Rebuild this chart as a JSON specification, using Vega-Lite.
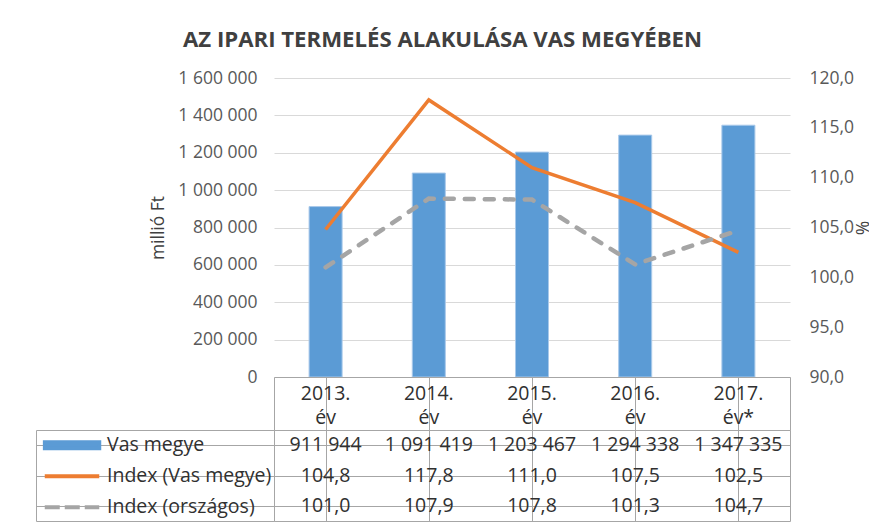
{
  "$schema": "https://vega.github.io/schema/vega-lite/v6.json",
  "padding": {"left": 35, "top": 28, "right": 0, "bottom": 0},
  "background": "white",
  "title": {
    "text": "AZ IPARI TERMELÉS ALAKULÁSA VAS MEGYÉBEN",
    "font": "Open Sans",
    "fontSize": 22.2,
    "fontWeight": "bold",
    "color": "#404040",
    "anchor": "middle",
    "dx": -10,
    "offset": 18
  },
  "config": {
    "locale": {"number": {"decimal": ",", "thousands": " ", "grouping": [3], "currency": ["", ""]}},
    "font": "Open Sans",
    "axis": {"labelFont": "Open Sans", "titleFont": "Open Sans"},
    "legend": {"labelFont": "Open Sans"}
  },
  "resolve": {
    "scale": {"color": "independent", "stroke": "independent", "shape": "independent", "strokeDash": "independent"},
    "legend": {"color": "independent", "stroke": "independent", "shape": "independent", "strokeDash": "independent"}
  },
  "datasets": {
    "main": [
      {"year": "2013. év", "series": "Vas megye", "value": 911944},
      {"year": "2014. év", "series": "Vas megye", "value": 1091419},
      {"year": "2015. év", "series": "Vas megye", "value": 1203467},
      {"year": "2016. év", "series": "Vas megye", "value": 1294338},
      {"year": "2017. év*", "series": "Vas megye", "value": 1347335},
      {"year": "2013. év", "series": "Index (Vas megye)", "value": 104.8},
      {"year": "2014. év", "series": "Index (Vas megye)", "value": 117.8},
      {"year": "2015. év", "series": "Index (Vas megye)", "value": 111.0},
      {"year": "2016. év", "series": "Index (Vas megye)", "value": 107.5},
      {"year": "2017. év*", "series": "Index (Vas megye)", "value": 102.5},
      {"year": "2013. év", "series": "Index (országos)", "value": 101.0},
      {"year": "2014. év", "series": "Index (országos)", "value": 107.9},
      {"year": "2015. év", "series": "Index (országos)", "value": 107.8},
      {"year": "2016. év", "series": "Index (országos)", "value": 101.3},
      {"year": "2017. év*", "series": "Index (országos)", "value": 104.7}
    ]
  },
  "columns": 2,
  "spacing": 0,
  "bounds": "flush",
  "concat": [
    {
      "width": 238, "height": 299,
      "view": {"stroke": null},
      "data": {"values": []},
      "mark": {"type": "text"},
      "encoding": {}
    },
    {
      "width": 516, "height": 299,
      "view": {"stroke": null},
      "data": {"name": "main"},
      "encoding": {
        "x": {"field": "year", "type": "nominal", "sort": null,
              "scale": {"paddingInner": 0.68, "paddingOuter": 0.34}, "axis": null}
      },
      "layer": [
        {
          "transform": [{"filter": "datum.series === 'Vas megye'"}],
          "mark": {"type": "bar", "color": "#5B9BD5", "stroke": "#A9C9EA", "strokeWidth": 1},
          "encoding": {
            "y": {"field": "value", "type": "quantitative",
                  "scale": {"domain": [0, 1600000]},
                  "axis": {"title": "millió Ft", "values": [0, 200000, 400000, 600000, 800000, 1000000, 1200000, 1400000, 1600000],
                           "format": ",d", "labelFontSize": 17.5, "labelColor": "#595959", "labelPadding": 17,
                           "ticks": false, "tickSize": 0, "domain": false, "grid": true, "gridColor": "#D9D9D9",
                           "titleFontSize": 17.5, "titleFontWeight": "normal", "titleColor": "#404040", "titlePadding": 10}}
          }
        },
        {
          "encoding": {
            "y": {"field": "value", "type": "quantitative",
                  "scale": {"domain": [90, 120]},
                  "axis": {"orient": "right", "title": "%", "values": [90, 95, 100, 105, 110, 115, 120],
                           "format": ".1f", "labelFontSize": 17.5, "labelColor": "#595959", "labelPadding": 19,
                           "ticks": false, "tickSize": 0, "domain": false, "grid": false,
                           "titleFontSize": 17.5, "titleFontWeight": "normal", "titleColor": "#404040", "titlePadding": -2}}
          },
          "layer": [
            {
              "transform": [{"filter": "datum.series === 'Index (Vas megye)'"}],
              "mark": {"type": "line", "color": "#ED7D31", "strokeWidth": 3.5}
            },
            {
              "transform": [{"filter": "datum.series === 'Index (országos)'"}],
              "mark": {"type": "line", "color": "#A5A5A5", "strokeWidth": 4.5, "strokeDash": [9, 11], "strokeCap": "round"}
            }
          ]
        }
      ],
      "resolve": {"scale": {"y": "independent"}}
    },
    {
      "width": 238, "height": 53,
      "view": {"stroke": null},
      "data": {"values": []},
      "mark": {"type": "text"},
      "encoding": {}
    },
    {
      "width": 516, "height": 53,
      "view": {"stroke": "#A6A6A6"},
      "data": {"name": "main"},
      "transform": [{"filter": "datum.series === 'Vas megye'"}],
      "mark": {"type": "text", "lineBreak": " ", "fontSize": 19.5, "lineHeight": 24, "dy": -10, "color": "#303030", "font": "Open Sans"},
      "encoding": {
        "x": {"field": "year", "type": "nominal", "sort": null,
              "scale": {"paddingInner": 0, "paddingOuter": 0},
              "axis": {"title": null, "labels": false, "ticks": false, "domain": false, "grid": true,
                       "gridColor": "#A6A6A6", "bandPosition": 0}},
        "text": {"field": "year"}
      }
    },
    {
      "width": 238, "height": 91,
      "view": {"stroke": "#A6A6A6"},
      "data": {"name": "main"},
      "transform": [{"filter": "datum.year === '2013. év'"}],
      "mark": {"type": "point", "filled": true, "opacity": 0},
      "encoding": {
        "y": {"field": "series", "type": "nominal",
              "scale": {"domain": ["Vas megye", "Index (Vas megye)", "Index (országos)"], "paddingInner": 0, "paddingOuter": 0},
              "axis": {"title": null, "labels": false, "ticks": false, "domain": false, "grid": true,
                       "gridColor": "#A6A6A6", "bandPosition": 0}},
        "color": {"field": "series", "type": "nominal",
                  "scale": {"domain": ["Vas megye", "Index (Vas megye)", "Index (országos)"],
                            "range": ["#5B9BD5", "#ED7D31", "#A5A5A5"]},
                  "legend": {
                    "orient": "none", "legendX": 6.5, "legendY": 0, "title": null, "padding": 0,
                    "clipHeight": 30.33, "rowPadding": 0, "labelOffset": 5.5, "labelFontSize": 19.5,
                    "labelFont": "Open Sans", "labelColor": "#303030", "labelLimit": 400,
                    "symbolSize": 2970, "symbolStrokeWidth": 4, "symbolOpacity": 1
                  }},
        "stroke": {"field": "series", "type": "nominal",
                   "scale": {"domain": ["Vas megye", "Index (Vas megye)", "Index (országos)"],
                             "range": ["#5B9BD5", "#ED7D31", "#A5A5A5"]},
                   "legend": {
                    "orient": "none", "legendX": 6.5, "legendY": 0, "title": null, "padding": 0,
                    "clipHeight": 30.33, "rowPadding": 0, "labelOffset": 5.5, "labelFontSize": 19.5,
                    "labelFont": "Open Sans", "labelColor": "#303030", "labelLimit": 400,
                    "symbolSize": 2970, "symbolStrokeWidth": 4, "symbolOpacity": 1
                  }},
        "shape": {"field": "series", "type": "nominal",
                  "scale": {"domain": ["Vas megye", "Index (Vas megye)", "Index (országos)"],
                            "range": ["M-1,-0.111H1V0.111H-1Z", "stroke", "stroke"]},
                  "legend": {
                    "orient": "none", "legendX": 6.5, "legendY": 0, "title": null, "padding": 0,
                    "clipHeight": 30.33, "rowPadding": 0, "labelOffset": 5.5, "labelFontSize": 19.5,
                    "labelFont": "Open Sans", "labelColor": "#303030", "labelLimit": 400,
                    "symbolSize": 2970, "symbolStrokeWidth": 4, "symbolOpacity": 1
                  }},
        "strokeDash": {"field": "series", "type": "nominal",
                  "scale": {"domain": ["Vas megye", "Index (Vas megye)", "Index (országos)"],
                            "range": [[1, 0], [1, 0], [15, 5]]},
                  "legend": {
                    "orient": "none", "legendX": 6.5, "legendY": 0, "title": null, "padding": 0,
                    "clipHeight": 30.33, "rowPadding": 0, "labelOffset": 5.5, "labelFontSize": 19.5,
                    "labelFont": "Open Sans", "labelColor": "#303030", "labelLimit": 400,
                    "symbolSize": 2970, "symbolStrokeWidth": 4, "symbolOpacity": 1
                  }}
      }
    },
    {
      "width": 516, "height": 91,
      "view": {"stroke": "#A6A6A6"},
      "data": {"name": "main"},
      "encoding": {
        "x": {"field": "year", "type": "nominal", "sort": null,
              "scale": {"paddingInner": 0, "paddingOuter": 0},
              "axis": {"title": null, "labels": false, "ticks": false, "domain": false, "grid": true,
                       "gridColor": "#A6A6A6", "bandPosition": 0}},
        "y": {"field": "series", "type": "nominal",
              "scale": {"domain": ["Vas megye", "Index (Vas megye)", "Index (országos)"], "paddingInner": 0, "paddingOuter": 0},
              "axis": {"title": null, "labels": false, "ticks": false, "domain": false, "grid": true,
                       "gridColor": "#A6A6A6", "bandPosition": 0}}
      },
      "layer": [
        {
          "transform": [{"filter": "datum.series === 'Vas megye'"}],
          "mark": {"type": "text", "fontSize": 19.5, "color": "#303030", "font": "Open Sans"},
          "encoding": {"text": {"field": "value", "type": "quantitative", "format": ",d"}}
        },
        {
          "transform": [{"filter": "datum.series !== 'Vas megye'"}],
          "mark": {"type": "text", "fontSize": 19.5, "color": "#303030", "font": "Open Sans"},
          "encoding": {"text": {"field": "value", "type": "quantitative", "format": ".1f"}}
        }
      ]
    }
  ]
}
